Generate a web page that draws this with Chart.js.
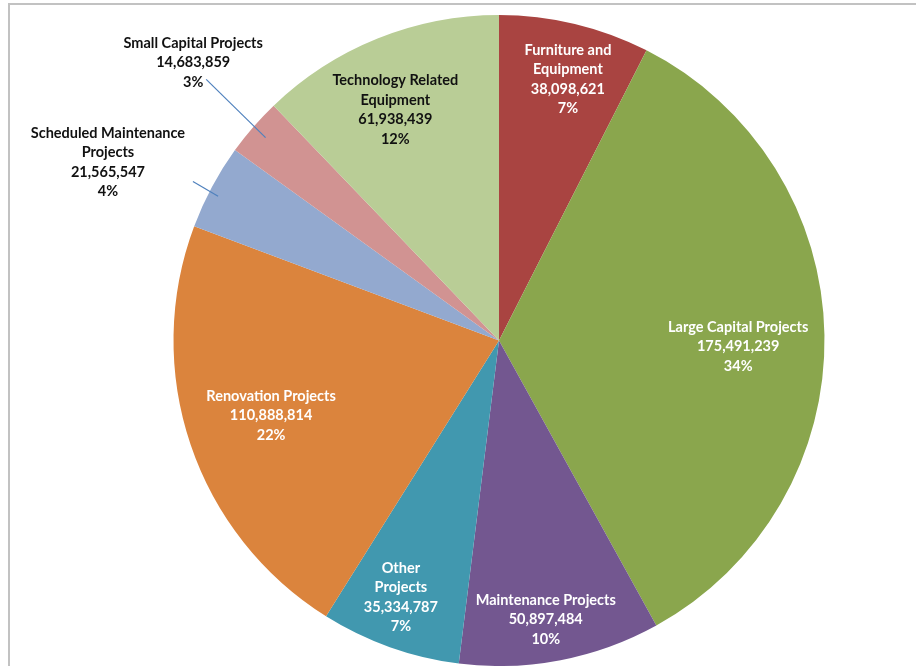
<!DOCTYPE html>
<html>
<head>
<meta charset="utf-8">
<script src="https://cdn.jsdelivr.net/npm/chart.js@4.4.0/dist/chart.umd.min.js"></script>
<style>
  html, body { margin: 0; padding: 0; background: #fff; }
  #wrap { position: relative; width: 916px; height: 666px; overflow: hidden; }
  #frame { position: absolute; left: 8px; top: 3px; width: 960px; height: 700px;
           border-top: 2px solid #c2c2c2; border-left: 2px solid #c2c2c2; }
  canvas { position: absolute; left: 0; top: 0; }
</style>
</head>
<body>
<div id="wrap">
  <div id="frame"></div>
  <canvas id="pie" width="916" height="666"></canvas>
</div>
<script>
const categories = [
  'Furniture and\nEquipment',
  'Large Capital Projects',
  'Maintenance Projects',
  'Other\nProjects',
  'Renovation Projects',
  'Scheduled Maintenance\nProjects',
  'Small Capital Projects',
  'Technology Related\nEquipment'
];
const amounts = [38098621, 175491239, 50897484, 35334787, 110888814, 21565547, 14683859, 61938439];

const sliceColors = ['#a94441', '#8aa64d', '#735790', '#4198af', '#db843d', '#93a9cf', '#d19392', '#b9cd96'];
const textColors = ['#fff', '#fff', '#fff', '#fff', '#fff', '#111', '#111', '#111'];

// label layout: radius as fraction of pie radius, angle nudge in degrees,
// optional leader line (inner end fraction, offset of outer end from label centre)
const labelPlace = [
  { r: 0.83, da: 1.3 },
  { r: 0.735, da: 2.4 },
  { r: 0.87, da: 1.4 },
  { r: 0.845, da: 1.3 },
  { r: 0.737, da: 0.5 },
  { r: 1.32, da: -3.7, lead: { r: 0.97, da: -1, dx: 85, dy: 19 } },
  { r: 1.27, da: 1.3, lead: { r: 0.95, da: 0, dx: 13, dy: 17 } },
  { r: 0.777, da: -2.3 }
];

const total = amounts.reduce((a, b) => a + b, 0);
const fmt = (n) => n.toLocaleString('en-US');

const sliceLabels = {
  id: 'sliceLabels',
  afterDatasetsDraw(chart) {
    const ctx = chart.ctx;
    const arcs = chart.getDatasetMeta(0).data;
    ctx.save();
    ctx.font = 'bold 14.5px Lato';
    ctx.textAlign = 'center';
    ctx.textBaseline = 'middle';
    arcs.forEach((arc, i) => {
      const p = arc.getProps(['x', 'y', 'startAngle', 'endAngle', 'outerRadius'], true);
      const place = labelPlace[i];
      const mid = (p.startAngle + p.endAngle) / 2;
      const a = mid + place.da * Math.PI / 180;
      const cx = p.x + Math.cos(a) * p.outerRadius * place.r;
      const cy = p.y + Math.sin(a) * p.outerRadius * place.r;
      const lines = categories[i].split('\n');
      lines.push(fmt(amounts[i]));
      lines.push(Math.round(amounts[i] / total * 100) + '%');
      const lh = 19.5;
      const y0 = cy - (lines.length - 1) * lh / 2;
      if (place.lead) {
        const la = mid + place.lead.da * Math.PI / 180;
        ctx.strokeStyle = '#4f81bd';
        ctx.lineWidth = 1.2;
        ctx.beginPath();
        ctx.moveTo(cx + place.lead.dx, cy + place.lead.dy);
        ctx.lineTo(p.x + Math.cos(la) * p.outerRadius * place.lead.r,
                   p.y + Math.sin(la) * p.outerRadius * place.lead.r);
        ctx.stroke();
      }
      ctx.fillStyle = textColors[i];
      lines.forEach((t, k) => ctx.fillText(t, cx, y0 + k * lh));
    });
    ctx.restore();
  }
};

new Chart(document.getElementById('pie'), {
  type: 'pie',
  data: {
    labels: categories,
    datasets: [{
      data: amounts,
      backgroundColor: sliceColors,
      borderWidth: 0
    }]
  },
  options: {
    responsive: false,
    animation: false,
    layout: { padding: { left: 82, right: 0, top: 15, bottom: 0 } },
    plugins: {
      legend: { display: false },
      tooltip: { enabled: false }
    }
  },
  plugins: [sliceLabels]
});
</script>
</body>
</html>
